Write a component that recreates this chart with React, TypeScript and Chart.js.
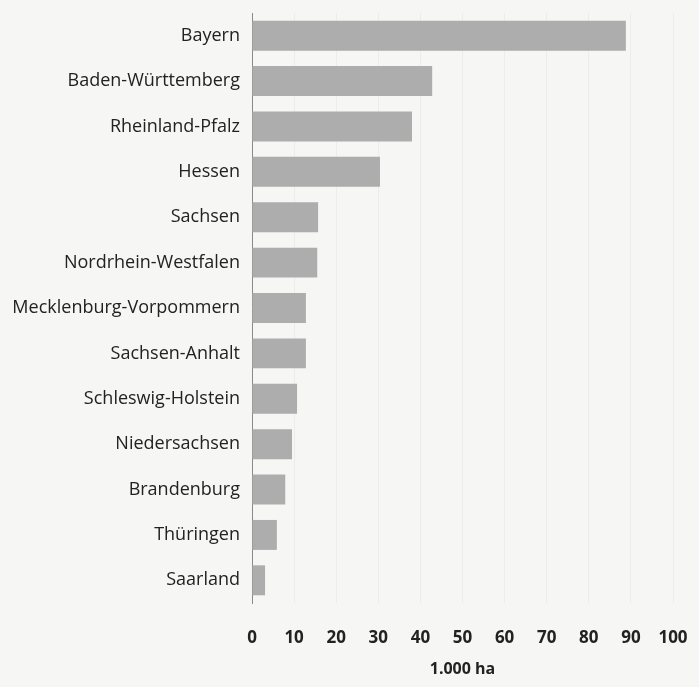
import React, { useEffect, useRef } from "react";
import { Chart, registerables } from "chart.js";

Chart.register(...registerables);

const categories = [
  "Bayern",
  "Baden-Württemberg",
  "Rheinland-Pfalz",
  "Hessen",
  "Sachsen",
  "Nordrhein-Westfalen",
  "Mecklenburg-Vorpommern",
  "Sachsen-Anhalt",
  "Schleswig-Holstein",
  "Niedersachsen",
  "Brandenburg",
  "Thüringen",
  "Saarland",
];

const values = [88.8, 42.8, 38.0, 30.4, 15.7, 15.5, 12.8, 12.8, 10.7, 9.5, 7.9, 5.9, 3.1];

const xTicks = [0, 10, 20, 30, 40, 50, 60, 70, 80, 90, 100];
const xTitle = "1.000 ha";

export default function App() {
  const ref = useRef<HTMLCanvasElement | null>(null);

  useEffect(() => {
    document.body.style.margin = "0";
    document.body.style.background = "#f6f6f5";
    const ctx = ref.current;
    if (!ctx) return;
    const font = "'Open Sans', 'Noto Sans', sans-serif";
    const chart = new Chart(ctx, {
      type: "bar",
      data: {
        labels: categories,
        datasets: [
          {
            data: values,
            backgroundColor: "#adadad",
            borderWidth: 0,
            barPercentage: 0.66,
            categoryPercentage: 1,
          },
        ],
      },
      options: {
        indexAxis: "y",
        animation: false,
        responsive: false,
        maintainAspectRatio: false,
        layout: { padding: { left: 0, right: 26, top: 13, bottom: 0 } },
        plugins: {
          legend: { display: false },
          tooltip: { enabled: false },
        },
        scales: {
          x: {
            min: 0,
            max: 100,
            afterBuildTicks: (scale: any) => {
              scale.ticks = xTicks.map((v) => ({ value: v }));
            },
            afterFit: (scale: any) => {
              scale.height = 84;
              scale.paddingLeft = 0;
              scale.paddingRight = 0;
            },
            grid: { color: "#ececeb", drawTicks: false },
            border: { display: false },
            ticks: {
              padding: 25,
              color: "#222",
              font: { family: font, size: 17, weight: "bold" },
            },
            title: {
              display: true,
              text: xTitle,
              color: "#222",
              font: { family: font, size: 16, weight: "bold" },
              padding: { top: 4, bottom: 8 },
            },
          },
          y: {
            afterFit: (scale: any) => {
              scale.width = 252;
              scale.paddingTop = 0;
              scale.paddingBottom = 0;
            },
            grid: { display: false, drawTicks: false },
            border: { display: true, color: "#8a8a8a", width: 1 },
            ticks: {
              padding: 12,
              color: "#222",
              font: { family: font, size: 18 },
            },
          },
        },
      },
    });
    return () => chart.destroy();
  }, []);

  return (
    <div style={{ position: "absolute", left: 0, top: 0, width: 699, height: 687, background: "#f6f6f5" }}>
      <canvas ref={ref} width={699} height={687} style={{ width: 699, height: 687 }} />
    </div>
  );
}
